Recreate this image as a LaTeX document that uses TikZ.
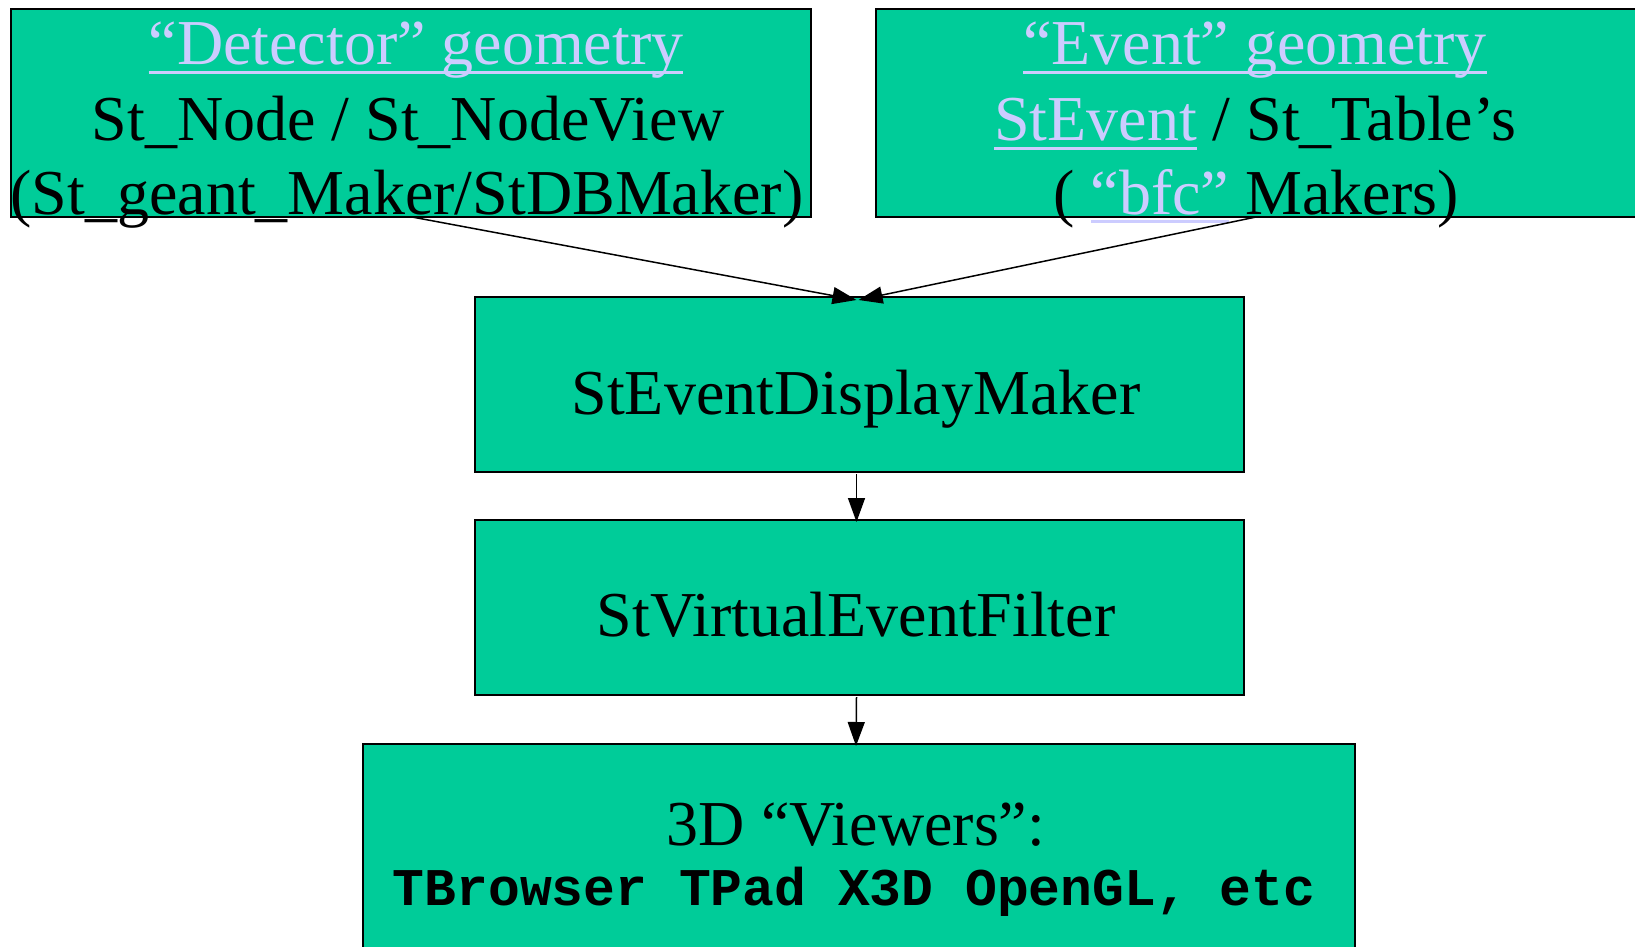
\documentclass[tikz,border=0pt]{standalone}
\usepackage{fontspec}
\setmainfont{Liberation Serif}
\setmonofont{Liberation Mono}
\usetikzlibrary{arrows.meta,calc}
\definecolor{boxgreen}{HTML}{00CC99}
\definecolor{lav}{HTML}{CCCCFF}
\newcommand\myul[1]{\leavevmode\setbox0\hbox{#1}\rlap{\rule[-9pt]{\wd0}{3pt}}\box0}
\begin{document}
\begin{tikzpicture}[x=1pt,y=-1pt,
  box/.style={draw=black,line width=2pt,fill=boxgreen,rectangle,inner sep=0pt},
  txt/.style={anchor=base,inner sep=0pt,font=\fontsize{64}{76}\selectfont},
  mono/.style={anchor=base,inner sep=0pt,font=\fontsize{53}{60}\selectfont\ttfamily\bfseries},
  conn/.style={line width=1.5pt,-{Triangle[length=24pt,width=17pt]}}]
\useasboundingbox (0,0) rectangle (1635,947);
\clip (0,0) rectangle (1635,947);
% boxes
\node[box,minimum width=800pt,minimum height=208pt] (det) at (411,113) {};
\node[box,minimum width=774pt,minimum height=208pt] (evt) at (1263,113) {};
\node[box,minimum width=769pt,minimum height=175pt] (sedm) at (859.5,384.5) {};
\node[box,minimum width=769pt,minimum height=175pt] (svef) at (859.5,607.5) {};
\node[box,minimum width=992pt,minimum height=216pt] (view) at (859,852) {};
% texts box 1
\node[txt,text=lav] (d1) at (416,65) {\myul{“Detector” geometry}};
\node[txt] (d2) at (408,141) {St\_Node / St\_NodeView};
\node[txt] (d3) at (407,214) {(St\_geant\_Maker/StDBMaker)};
% texts box 2
\node[txt] (e1) at (1255,65) {\textcolor{lav}{\myul{“Event” geometry}}};
\node[txt] (e2) at (1255,141) {\textcolor{lav}{\myul{StEvent}} / St\_Table’s};
\node[txt] (e3) at (1256,214) {( \textcolor{lav}{\myul{“bfc”}} Makers)};
% other texts
\node[txt] (t3) at (856,414) {StEventDisplayMaker};
\node[txt] (t4) at (856,636) {StVirtualEventFilter};
\node[txt] (t5a) at (856,845) {3D “Viewers”:};
\node[mono] (t5b) at (854,905) {TBrowser TPad X3D OpenGL, etc};
% connectors
\coordinate (s1) at (412,217);
\coordinate (s2) at (1256,217);
\draw[conn] (s1) -- ($(sedm.north)+(-3,4)$);
\draw[conn] (s2) -- ($(sedm.north)+(-1,4)$);
\draw[conn] ($(sedm.south)+(-3,1)$) -- ($(svef.north)+(-3,3)$);
\draw[conn] ($(svef.south)+(-3,1)$) -- ($(view.north)+(-3,3)$);
\end{tikzpicture}
\end{document}
